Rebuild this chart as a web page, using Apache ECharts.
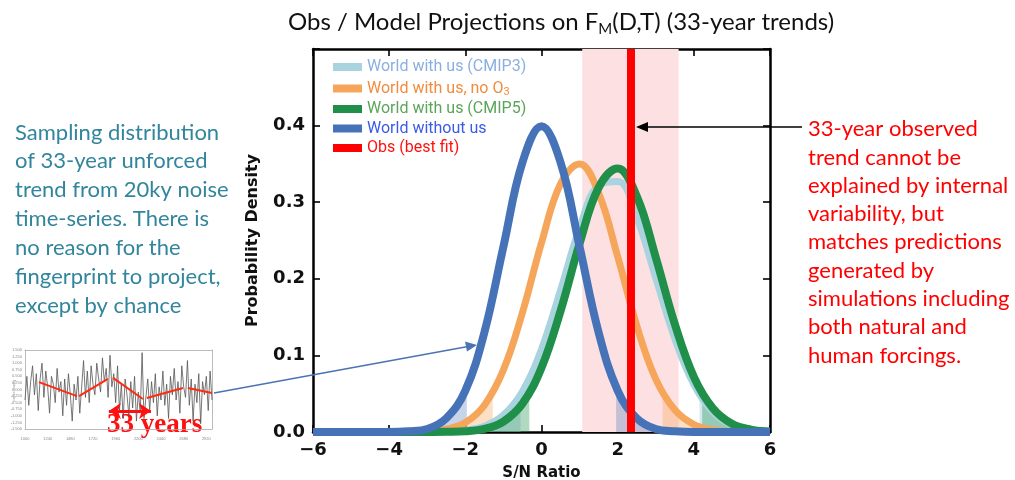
<!DOCTYPE html>
<html>
<head>
<meta charset="utf-8">
<script src="https://cdn.jsdelivr.net/npm/echarts@6/dist/echarts.min.js"></script>
<style>
  html, body { margin: 0; padding: 0; background: #fff; }
  #main { width: 1015px; height: 480px; }
</style>
</head>
<body>
<div id="main"></div>
<script>
// S/N ratio positions of the curve samples
const snRatio = [-6, -5.5, -5, -4.5, -4, -3.5, -3, -2.5, -2, -1.5, -1, -0.5, 0, 0.5, 1, 1.5, 2, 2.5, 3, 3.5, 4, 4.5, 5, 5.5, 6]
// probability density
const cmip3 = [0, 0, 0, 0, 0, 0, 0.0001, 0.0005, 0.0022, 0.0076, 0.022, 0.053, 0.108, 0.185, 0.266, 0.322, 0.327, 0.28, 0.201, 0.122, 0.062, 0.026, 0.0095, 0.0029, 0.0007]
const noO3 = [0, 0, 0, 0, 0, 0.0002, 0.0009, 0.0036, 0.0123, 0.035, 0.081, 0.156, 0.247, 0.324, 0.35, 0.312, 0.229, 0.139, 0.069, 0.029, 0.0098, 0.0027, 0.0006, 0.0001, 0]
const cmip5 = [0, 0, 0, 0, 0, 0, 0, 0.0002, 0.001, 0.0041, 0.0136, 0.037, 0.084, 0.158, 0.246, 0.319, 0.344, 0.308, 0.228, 0.141, 0.072, 0.031, 0.0108, 0.0032, 0.0008]
const without = [0, 0, 0, 0, 0, 0.001, 0.004, 0.018, 0.054, 0.13, 0.242, 0.352, 0.399, 0.352, 0.242, 0.13, 0.054, 0.018, 0.004, 0.001, 0, 0, 0, 0, 0]
// shaded tails: lower / upper cut and density at the cut (cmip3, noO3, cmip5, without)
const tailLo = [-0.55, -1.28, -0.32, -1.96]
const tailHi = [4.15, 3.18, 4.22, 1.96]
const tailY = [0.049, 0.051, 0.05, 0.058]
// observed trend and its range
const obsBest = 2.35
const obsRange = [1.07, 3.6]

// inset: unforced noise series and 33-year trend segments
const noise = [-0.4, 0.5, -0.6, 0.3, 0.9, -0.2, 0.6, -0.8, 0.4, 1.0,
  -0.3, 0.7, 0.1, -0.9, 0.5, 0.2, -0.5, 0.8, -0.1, 0.3,
  -1.0, 0.4, -0.6, 0.6, -0.2, -1.2, 0.2, -0.4, 0.5, -0.9,
  0.1, 1.1, -0.3, 0.7, -0.5, 0.9, 0.2, -0.2, 1.0, 0.4,
  -0.1, 1.2, 0.3, 0.8, -0.3, 1.3, 0.1, 0.6, -0.5, 0.9,
  -0.8, 0.2, -1.1, 0.4, -0.2, -1.0, 0.3, -0.7, 0.5, -1.2,
  -0.1, -0.9, 1.4, -1.1, -0.3, 0.4, -0.8, 0.3, -0.5, 0.6,
  -1.0, 0.1, -0.4, 0.7, -0.6, 0.2, -1.1, 0.5, -0.2, 0.8,
  -0.4, 0.3, -0.9, 0.9, 0.1, -0.3, 1.1, -0.6, 0.4, -1.2,
  0.2, -0.5, 0.6, -1.3, 0.3, -0.2, 0.5, -0.8, 0.7, -0.4]
const segStart = [[7.4, 0.28], [28.6, -0.25], [46.6, 0.44], [64.5, -0.32], [86.2, 0.06]]
const segEnd = [[27.5, -0.25], [43.9, 0.4], [62.4, -0.36], [83.6, 0.06], [99, -0.13]]

const names = ['World with us (CMIP3)', 'World with us, no O3', 'World with us (CMIP5)', 'World without us']
const curves = [cmip3, noO3, cmip5, without]
const colors = ['#a9d3df', '#f6a65a', '#1f8f4a', '#4672b8']
const shades = ['rgba(169,211,223,0.5)', 'rgba(246,166,90,0.35)', 'rgba(31,143,74,0.35)', 'rgba(70,114,184,0.3)']
const widths = [7, 7, 8, 8]

const chart = echarts.init(document.getElementById('main'))

function fmtX(v) {
  return v < 0 ? '\u2212' + Math.abs(v) : String(v)
}

const series = []
curves.forEach((ys, i) => {
  const pts = snRatio.map((x, k) => [x, ys[k]])
  // tails under the curve
  const lo = pts.filter(p => p[0] <= tailLo[i]).concat([[tailLo[i], tailY[i]]])
  const hi = [[tailHi[i], tailY[i]]].concat(pts.filter(p => p[0] >= tailHi[i]))
  ;[lo, hi].forEach(d => {
    series.push({
      type: 'line', data: d, smooth: 0.4, showSymbol: false, silent: true,
      lineStyle: { width: 0 }, areaStyle: { color: shades[i], opacity: 1 }, z: 2
    })
  })
  const s = {
    name: names[i], type: 'line', data: pts, smooth: 0.4, showSymbol: false,
    lineStyle: { width: widths[i], color: colors[i] }, itemStyle: { color: colors[i] }, z: 3 + i
  }
  if (i === 0) {
    s.markArea = {
      silent: true,
      itemStyle: { color: '#fde1e2' },
      data: [[{ xAxis: obsRange[0] }, { xAxis: obsRange[1] }]]
    }
  }
  series.push(s)
})
series.push({
  name: 'Obs (best fit)', type: 'line', data: [[obsBest, 0], [obsBest, 0.5]],
  showSymbol: false, lineStyle: { width: 8, color: '#ff0000' }, itemStyle: { color: '#ff0000' }, z: 10
})
// inset series
series.push({
  type: 'line', xAxisIndex: 2, yAxisIndex: 2, data: noise.map((v, k) => [k, v]),
  showSymbol: false, silent: true, lineStyle: { width: 0.8, color: '#555' }
})
segStart.forEach((p, k) => {
  const seg = {
    type: 'line', xAxisIndex: 2, yAxisIndex: 2, data: [p, segEnd[k]],
    showSymbol: false, silent: true, lineStyle: { width: 2, color: '#ff2a10' }
  }
  if (k === 2) {
    seg.markLine = {
      silent: true, symbol: ['arrow', 'arrow'], symbolSize: [12, 12], label: { show: false },
      lineStyle: { color: '#ff1010', width: 3, type: 'solid' },
      data: [[{ coord: [44.4, -0.82] }, { coord: [66.7, -0.82] }]]
    }
  }
  series.push(seg)
})

const axisFont = { fontFamily: 'DejaVu Sans', fontWeight: 'bold', fontSize: 18, color: '#111' }
const frameLine = { show: true, onZero: false, lineStyle: { color: '#000', width: 2.5 } }
const inTick = { show: true, inside: true, length: 7, lineStyle: { color: '#000', width: 1.6 } }
const insetLine = { show: true, onZero: false, lineStyle: { color: '#aaa', width: 0.8 } }
const insetFont = { fontSize: 4, color: '#888' }
const legFont = { fontFamily: 'Roboto', fontSize: 16, lineHeight: 18 }

const option = {
  animation: false,
  title: {
    text: '{a|Obs / Model Projections on F}{s|M}{a|(D,T) (33-year trends)}',
    left: 283, top: 2,
    textStyle: {
      fontWeight: 'normal',
      rich: {
        a: { fontFamily: 'Lato', fontWeight: 'normal', fontSize: 24, color: '#111', lineHeight: 30 },
        s: { fontFamily: 'Lato', fontWeight: 'normal', fontSize: 15, color: '#111', lineHeight: 30, verticalAlign: 'bottom', padding: [11, 0, 0, 0] }
      }
    }
  },
  legend: {
    orient: 'vertical', left: 328, top: 54, itemWidth: 29, itemHeight: 8, itemGap: 3.5,
    icon: 'rect',
    data: names.concat(['Obs (best fit)']),
    formatter: name => {
      if (name === names[0]) return '{c3|' + name + '}'
      if (name === names[1]) return '{o|World with us, no O}{os|3}'
      if (name === names[2]) return '{c5|' + name + '}'
      if (name === names[3]) return '{wo|' + name + '}'
      return '{ob|' + name + '}'
    },
    textStyle: {
      fontFamily: 'Roboto', fontSize: 16,
      rich: {
        c3: Object.assign({ color: '#8aafe0' }, legFont),
        o: Object.assign({ color: '#f38b3d' }, legFont),
        os: { color: '#f38b3d', fontFamily: 'Roboto', fontSize: 11, lineHeight: 18, verticalAlign: 'bottom', padding: [8, 0, 0, 0] },
        c5: Object.assign({ color: '#5aa55a' }, legFont),
        wo: Object.assign({ color: '#3a5ae8' }, legFont),
        ob: Object.assign({ color: '#ff1010' }, legFont)
      }
    }
  },
  grid: [
    { left: 313, right: 245, top: 49, bottom: 48, outerBoundsMode: 'none', containLabel: false },
    { left: 25, right: 803, top: 350, bottom: 51, outerBoundsMode: 'none', containLabel: false }
  ],
  xAxis: [
    {
      type: 'value', gridIndex: 0, min: -6, max: 6, interval: 2,
      name: 'S/N Ratio', nameLocation: 'middle', nameGap: 34,
      nameTextStyle: { fontFamily: 'DejaVu Sans', fontWeight: 'bold', fontSize: 15, color: '#111' },
      axisLine: frameLine, axisTick: inTick, splitLine: { show: false },
      axisLabel: Object.assign({ formatter: fmtX, margin: 9 }, axisFont)
    },
    {
      type: 'value', gridIndex: 0, position: 'top', min: -6, max: 6, interval: 2,
      axisLine: frameLine, axisTick: inTick, splitLine: { show: false }, axisLabel: { show: false }
    },
    {
      type: 'value', gridIndex: 1, min: 0, max: 99, interval: 12,
      axisLine: insetLine, axisTick: { show: false }, splitLine: { show: false },
      axisLabel: Object.assign({ formatter: v => (1000 + v * 20) + '' }, insetFont)
    },
    {
      type: 'value', gridIndex: 1, position: 'top', min: 0, max: 99,
      axisLine: insetLine, axisTick: { show: false }, splitLine: { show: false }, axisLabel: { show: false }
    }
  ],
  yAxis: [
    {
      type: 'value', gridIndex: 0, min: 0, max: 0.5, interval: 0.1,
      name: 'Probability Density', nameLocation: 'middle', nameGap: 52,
      nameTextStyle: { fontFamily: 'DejaVu Sans', fontWeight: 'bold', fontSize: 16, color: '#111' },
      axisLine: frameLine, axisTick: inTick, splitLine: { show: false },
      axisLabel: Object.assign({ formatter: v => (v >= 0.5 ? '' : v.toFixed(1)), margin: 8 }, axisFont)
    },
    {
      type: 'value', gridIndex: 0, position: 'right', min: 0, max: 0.5, interval: 0.1,
      axisLine: frameLine, axisTick: inTick, splitLine: { show: false }, axisLabel: { show: false }
    },
    {
      type: 'value', gridIndex: 1, min: -1.5, max: 1.5, interval: 0.25,
      axisLine: insetLine, axisTick: { show: false }, splitLine: { show: false },
      axisLabel: Object.assign({ formatter: v => v.toFixed(3), margin: 3 }, insetFont)
    },
    {
      type: 'value', gridIndex: 1, position: 'right', min: -1.5, max: 1.5,
      axisLine: insetLine, axisTick: { show: false }, splitLine: { show: false }, axisLabel: { show: false }
    }
  ],
  series: series,
  graphic: [
    {
      type: 'text', left: 15, top: 118,
      style: {
        text: 'Sampling distribution\nof 33-year unforced\ntrend from 20ky noise\ntime-series. There is\nno reason for the\nfingerprint to project,\nexcept by chance',
        fill: '#31859c', fontFamily: 'Lato', fontSize: 22, lineHeight: 28.9
      }
    },
    {
      type: 'text', left: 808, top: 115,
      style: {
        text: '33-year observed\ntrend cannot be\nexplained by internal\nvariability, but\nmatches predictions\ngenerated by\nsimulations including\nboth natural and\nhuman forcings.',
        fill: '#ff0000', fontFamily: 'Lato', fontSize: 22, lineHeight: 28.3
      }
    },
    {
      type: 'text', left: 107, top: 412,
      style: { text: '33 years', fill: '#ff1010', fontFamily: 'Liberation Serif', fontWeight: 'bold', fontSize: 27 }
    },
    {
      type: 'text', x: 16, y: 380, rotation: -Math.PI / 2,
      style: { text: 'Noise series', fill: '#999', fontSize: 4 }
    },
    // black arrow to the observed line
    { type: 'line', shape: { x1: 802, y1: 127, x2: 645, y2: 127 }, style: { stroke: '#000', lineWidth: 1.6 }, z: 100 },
    { type: 'polygon', shape: { points: [[636, 127], [648, 122], [648, 132]] }, style: { fill: '#000' }, z: 100 },
    // blue arrow from the inset
    { type: 'line', shape: { x1: 214, y1: 393, x2: 468, y2: 346.5 }, style: { stroke: '#4a74b2', lineWidth: 1.6 }, z: 100 },
    { type: 'polygon', shape: { points: [[477, 345], [465, 341.5], [467, 351.5]] }, style: { fill: '#4a74b2' }, z: 100 }
  ]
}
chart.setOption(option)
</script>
</body>
</html>
